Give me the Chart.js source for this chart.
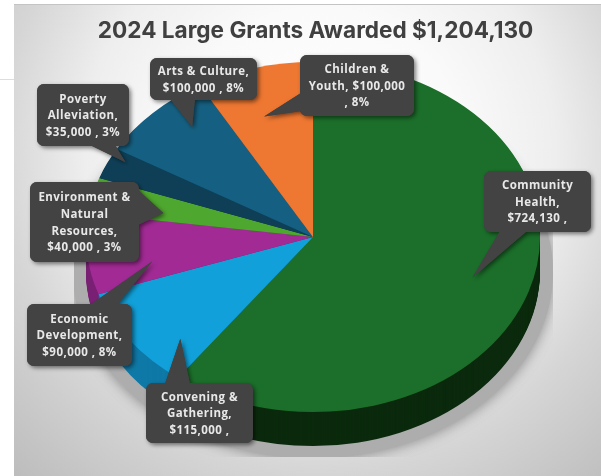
<!DOCTYPE html>
<html>
<head>
<meta charset="utf-8">
<script src="https://cdn.jsdelivr.net/npm/chart.js@4"></script>
<style>
  html, body { margin: 0; padding: 0; background: #fff; }
  canvas { display: block; }
</style>
</head>
<body>
<canvas id="chart" width="601" height="476"></canvas>
<script>
// data
const categories = ["Community Health", "Convening & Gathering", "Economic Development", "Environment & Natural Resources", "Poverty Alleviation", "Arts & Culture", "Children & Youth"];
const grants = [724130, 115000, 90000, 40000, 35000, 100000, 100000];
const titleText = "2024 Large Grants Awarded $1,204,130";
const labelLines = [
  ["Community", "Health,", "$724,130 ,"],
  ["Convening &", "Gathering,", "$115,000 ,"],
  ["Economic", "Development,", "$90,000 , 8%"],
  ["Environment &", "Natural", "Resources,", "$40,000 , 3%"],
  ["Poverty", "Alleviation,", "$35,000 , 3%"],
  ["Arts & Culture,", "$100,000 , 8%"],
  ["Children &", "Youth, $100,000", ", 8%"]
];

// styles
const topColors = ["#1b6f2a", "#11a0d9", "#a12a94", "#4ea72e", "#0f3f57", "#156082", "#ee7731"];
const sideColors = ["#0b2a0d", "#0e78a6", "#7a2075", "#2f6a1c", "#0a2a3a", "#0e4058", "#a84f1e"];

const pieCenter = { x: 313, y: 237 };
const squash = 0.771;
const depth = 34;

// callout boxes [x, y, w, h], pointer base [x1, y1, x2, y2],
// pointer tip as angle nudge (deg) and radius fraction from the slice middle
const callouts = [
  { box: [484, 171, 107, 61], base: [500, 231, 527, 231], nudge: 0, frac: 0.74 },
  { box: [146, 383, 107, 60], base: [165, 384, 190, 384], nudge: -8.5, frac: 0.824 },
  { box: [27, 304, 105, 62], base: [90, 305, 117, 305], nudge: -5.5, frac: 0.722 },
  { box: [30, 182, 109, 80], base: [138, 190, 138, 225], nudge: -2, frac: 0.674 },
  { box: [37, 84, 92, 62], base: [90, 145, 115, 145], nudge: 2.4, frac: 0.93 },
  { box: [150, 58, 107, 42], base: [170, 99, 195, 99], nudge: 4.6, frac: 0.824 },
  { box: [300, 55, 114, 61], base: [301, 93, 301, 111], nudge: -2.4, frac: 0.722 }
];

function backdrop(ctx) {
  ctx.fillStyle = "#ffffff";
  ctx.fillRect(0, 0, 601, 476);
  ctx.fillStyle = "#dddddd";
  ctx.fillRect(0, 79, 14, 1);
  const g = ctx.createRadialGradient(320, 150, 0, 320, 150, 470);
  g.addColorStop(0, "#ffffff");
  g.addColorStop(0.3, "#fafafa");
  g.addColorStop(0.5, "#eeeeee");
  g.addColorStop(0.68, "#d6d6d6");
  g.addColorStop(0.87, "#c4c4c4");
  g.addColorStop(1, "#b8b8b8");
  ctx.fillStyle = g;
  ctx.fillRect(14, 4, 587, 472);
  ctx.fillStyle = "#c4c4c4";
  ctx.fillRect(14, 4, 587, 1);
}

// puts the library's circle onto the flattened pie, dy pixels lower
function applyPieTransform(ctx, arc, dy) {
  ctx.translate(pieCenter.x, pieCenter.y + dy);
  ctx.scale(1, squash);
  ctx.translate(-arc.x, -arc.y);
}

function drawShadow(ctx, first) {
  ctx.save();
  ctx.beginPath();
  ctx.rect(74, 40, 479, 417);
  ctx.clip();
  ctx.shadowColor = "rgba(90,90,90,0.7)";
  ctx.shadowBlur = 14;
  ctx.fillStyle = "#adadad";
  ctx.beginPath();
  ctx.ellipse(pieCenter.x, pieCenter.y + 35, first.outerRadius + 13, first.outerRadius * squash + 11, 0, 0, Math.PI * 2);
  ctx.fill();
  ctx.restore();
}

function drawSides(ctx, arcs) {
  for (let d = depth; d >= 1; d--) {
    arcs.forEach((arc, i) => {
      ctx.save();
      applyPieTransform(ctx, arc, d);
      ctx.fillStyle = sideColors[i];
      ctx.beginPath();
      ctx.moveTo(arc.x, arc.y);
      ctx.arc(arc.x, arc.y, arc.outerRadius, arc.startAngle, arc.endAngle);
      ctx.closePath();
      ctx.fill();
      ctx.restore();
    });
  }
}

function calloutShape(ctx, c, tip) {
  ctx.beginPath();
  ctx.roundRect(c.box[0], c.box[1], c.box[2], c.box[3], 7);
  ctx.fill();
  ctx.beginPath();
  ctx.moveTo(c.base[0], c.base[1]);
  ctx.lineTo(tip.x, tip.y);
  ctx.lineTo(c.base[2], c.base[3]);
  ctx.closePath();
  ctx.fill();
}

function drawCallouts(ctx, arcs) {
  callouts.forEach((c, i) => {
    const arc = arcs[i];
    const mid = (arc.startAngle + arc.endAngle) / 2 + c.nudge * Math.PI / 180;
    const r = arc.outerRadius * c.frac;
    const tip = {
      x: pieCenter.x + Math.cos(mid) * r,
      y: pieCenter.y + Math.sin(mid) * r * squash
    };
    ctx.save();
    ctx.fillStyle = "#434343";
    ctx.shadowColor = "rgba(0,0,0,0.5)";
    ctx.shadowBlur = 4;
    ctx.shadowOffsetX = 2;
    ctx.shadowOffsetY = 2;
    calloutShape(ctx, c, tip);
    ctx.shadowColor = "transparent";
    calloutShape(ctx, c, tip);

    ctx.fillStyle = "#e8e8e8";
    ctx.font = "bold 11.5px 'Open Sans'";
    ctx.letterSpacing = "0.45px";
    ctx.textAlign = "center";
    ctx.textBaseline = "middle";
    const lines = labelLines[i];
    const lh = 16.6;
    const cx = c.box[0] + c.box[2] / 2;
    const startY = c.box[1] + c.box[3] / 2 - (lines.length - 1) * lh / 2 + 1;
    lines.forEach((line, n) => ctx.fillText(line, cx, startY + n * lh));
    ctx.restore();
  });
}

const flatPie = {
  id: "flatPie",
  beforeDraw(chart) {
    backdrop(chart.ctx);
  },
  beforeDatasetsDraw(chart) {
    const ctx = chart.ctx;
    const arcs = chart.getDatasetMeta(0).data;
    drawShadow(ctx, arcs[0]);
    drawSides(ctx, arcs);
    ctx.save();
    applyPieTransform(ctx, arcs[0], 0);
  },
  afterDatasetsDraw(chart) {
    chart.ctx.restore();
    drawCallouts(chart.ctx, chart.getDatasetMeta(0).data);
  }
};

new Chart(document.getElementById("chart"), {
  type: "pie",
  data: {
    labels: categories,
    datasets: [{
      data: grants,
      backgroundColor: topColors,
      borderWidth: 0,
      radius: 227,
      clip: false
    }]
  },
  options: {
    responsive: false,
    animation: false,
    devicePixelRatio: 1,
    layout: { padding: { left: 30, right: 0, top: 0, bottom: 0 } },
    plugins: {
      legend: { display: false },
      tooltip: { enabled: false },
      title: {
        display: true,
        text: titleText,
        fullSize: false,
        color: "#404040",
        font: { family: "Inter", size: 22.6, weight: "bold" },
        padding: { top: 18, bottom: 8 }
      }
    }
  },
  plugins: [flatPie]
});
</script>
</body>
</html>
